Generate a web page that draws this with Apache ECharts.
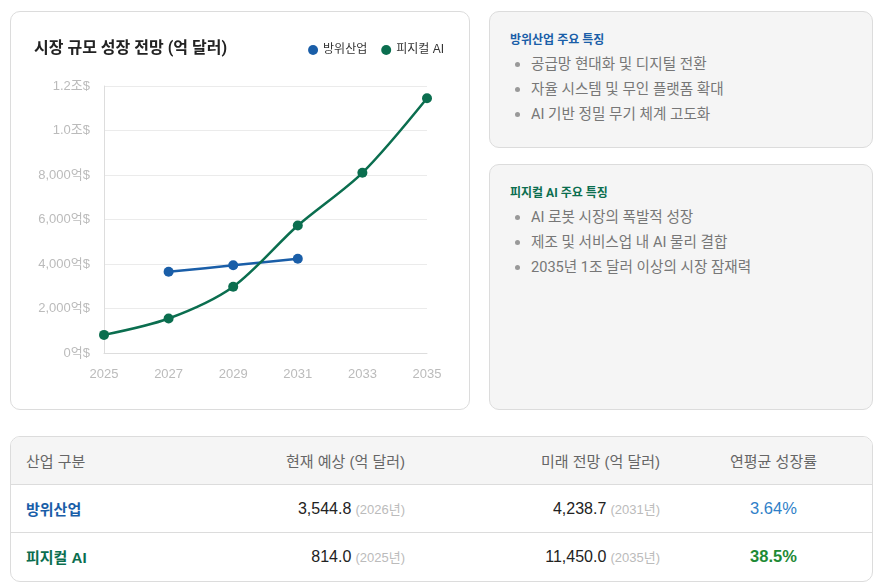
<!DOCTYPE html>
<html lang="ko">
<head>
<meta charset="utf-8">
<script src="https://cdn.jsdelivr.net/npm/echarts@6/dist/echarts.min.js"></script>
<style>
  html, body { margin:0; padding:0; background:#fff; width:882px; height:588px; overflow:hidden;
    font-family: Roboto, "Noto Sans CJK KR", sans-serif; }
  .card { position:absolute; box-sizing:border-box; border:1px solid #dcdcdc; border-radius:10px; }
  #chartCard { left:10px; top:11px; width:460px; height:399px; background:#fff; }
  #chart { position:absolute; left:0; top:0; width:458px; height:397px; }
  .info { background:#f5f5f5; }
  #info1 { left:489px; top:11px; width:384px; height:137px; }
  #info2 { left:489px; top:164px; width:384px; height:246px; }
  .info h4 { margin:0; position:absolute; left:20px; font-size:12px; font-weight:bold; }
  .info ul { position:absolute; left:0; margin:0; padding:0; list-style:none; }
  .info li { position:relative; height:25px; line-height:25px; padding-left:41px; font-size:14.6px; color:#777; white-space:nowrap; }
  .info li::before { content:""; position:absolute; left:25px; top:10px; width:5px; height:5px; border-radius:50%; background:#999; }
  #tbl { position:absolute; left:10px; top:436px; width:863px; height:146px; box-sizing:border-box;
    border:1px solid #dcdcdc; border-radius:10px; overflow:hidden;
    font-family: "Liberation Sans", "Noto Sans CJK KR", sans-serif; }
  table { border-collapse:collapse; width:861px; table-layout:fixed; }
  th, td { padding:0 15px; font-size:15px; }
  th { height:47px; background:#f5f5f5; color:#666; font-weight:normal; border-bottom:1px solid #dcdcdc; }
  td { height:47px; }
  tr.r1 td { border-bottom:1px solid #dcdcdc; }
  .l { text-align:left; } .r { text-align:right; } .c { text-align:center; }
  .yr { color:#bbb; font-size:13px; }
  .num { color:#222; font-size:16px; }
  .pct { font-size:16.5px; }
</style>
</head>
<body>
<div class="card" id="chartCard"><div id="chart"></div></div>

<div class="card info" id="info1">
  <h4 style="top:18px;color:#1a5ea8;">방위산업 주요 특징</h4>
  <ul style="top:40px;">
    <li>공급망 현대화 및 디지털 전환</li>
    <li>자율 시스템 및 무인 플랫폼 확대</li>
    <li>AI 기반 정밀 무기 체계 고도화</li>
  </ul>
</div>
<div class="card info" id="info2">
  <h4 style="top:18px;color:#0b6e4f;">피지컬 AI 주요 특징</h4>
  <ul style="top:40px;">
    <li>AI 로봇 시장의 폭발적 성장</li>
    <li>제조 및 서비스업 내 AI 물리 결합</li>
    <li>2035년 1조 달러 이상의 시장 잠재력</li>
  </ul>
</div>

<div id="tbl">
<table>
  <colgroup><col style="width:154px"><col style="width:255px"><col style="width:255px"><col style="width:197px"></colgroup>
  <tr><th class="l">산업 구분</th><th class="r">현재 예상 (억 달러)</th><th class="r">미래 전망 (억 달러)</th><th class="c">연평균 성장률</th></tr>
  <tr class="r1"><td class="l" style="color:#1a5ea8;font-weight:bold;">방위산업</td>
    <td class="r"><span class="num">3,544.8</span> <span class="yr">(2026년)</span></td>
    <td class="r"><span class="num">4,238.7</span> <span class="yr">(2031년)</span></td>
    <td class="c pct" style="color:#2f7fc8;">3.64%</td></tr>
  <tr><td class="l" style="color:#0b6e4f;font-weight:bold;">피지컬 AI</td>
    <td class="r"><span class="num">814.0</span> <span class="yr">(2025년)</span></td>
    <td class="r"><span class="num">11,450.0</span> <span class="yr">(2035년)</span></td>
    <td class="c pct" style="color:#1e8a35;font-weight:bold;">38.5%</td></tr>
</table>
</div>

<script>
const years = ['2025', '2027', '2029', '2031', '2033', '2035'];
const defenseValues = [null, 3650, 3940, 4239];
const physicalAiValues = [814, 1550, 2980, 5730, 8100, 11450];
const seriesNames = ['방위산업', '피지컬 AI'];
const seriesColors = ['#1a5ea8', '#0b6e4f'];

function fmtY(v) {
  if (v >= 10000) return (v / 10000).toFixed(1) + '조$';
  return v.toLocaleString('en-US') + '억$';
}

const chart = echarts.init(document.getElementById('chart'));
chart.setOption({
  animation: false,
  textStyle: { fontFamily: '"Liberation Sans", "Noto Sans CJK KR", sans-serif' },
  title: {
    text: '시장 규모 성장 전망 (억 달러)',
    left: 18, top: 24,
    textStyle: { fontSize: 16, fontWeight: 'bold', color: '#222',
      fontFamily: 'Roboto, "Noto Sans CJK KR", sans-serif' }
  },
  legend: {
    right: 20, top: 27,
    icon: 'circle', itemWidth: 10, itemHeight: 10, itemGap: 14,
    textStyle: { fontSize: 12, color: '#333' },
    data: seriesNames
  },
  grid: { left: 93, right: 42, top: 74, bottom: 56 },
  xAxis: {
    type: 'category', data: years, boundaryGap: false,
    axisLine: { lineStyle: { color: '#ddd' } },
    axisTick: { show: false },
    axisLabel: { color: '#bbb', fontSize: 13, margin: 15 }
  },
  yAxis: {
    type: 'value', min: 0, max: 12000, interval: 2000,
    axisLine: { show: true, lineStyle: { color: '#ddd' } },
    axisTick: { show: false },
    splitLine: { lineStyle: { color: '#ebebeb' } },
    axisLabel: { color: '#bbb', fontSize: 13, margin: 14, formatter: fmtY }
  },
  series: [
    {
      name: seriesNames[0], type: 'line', data: defenseValues, smooth: 0.3,
      symbol: 'circle', symbolSize: 10, connectNulls: false,
      itemStyle: { color: seriesColors[0] },
      lineStyle: { color: seriesColors[0], width: 2.5 }
    },
    {
      name: seriesNames[1], type: 'line', data: physicalAiValues, smooth: 0.3,
      symbol: 'circle', symbolSize: 10,
      itemStyle: { color: seriesColors[1] },
      lineStyle: { color: seriesColors[1], width: 2.5 }
    }
  ]
});
</script>
</body>
</html>
